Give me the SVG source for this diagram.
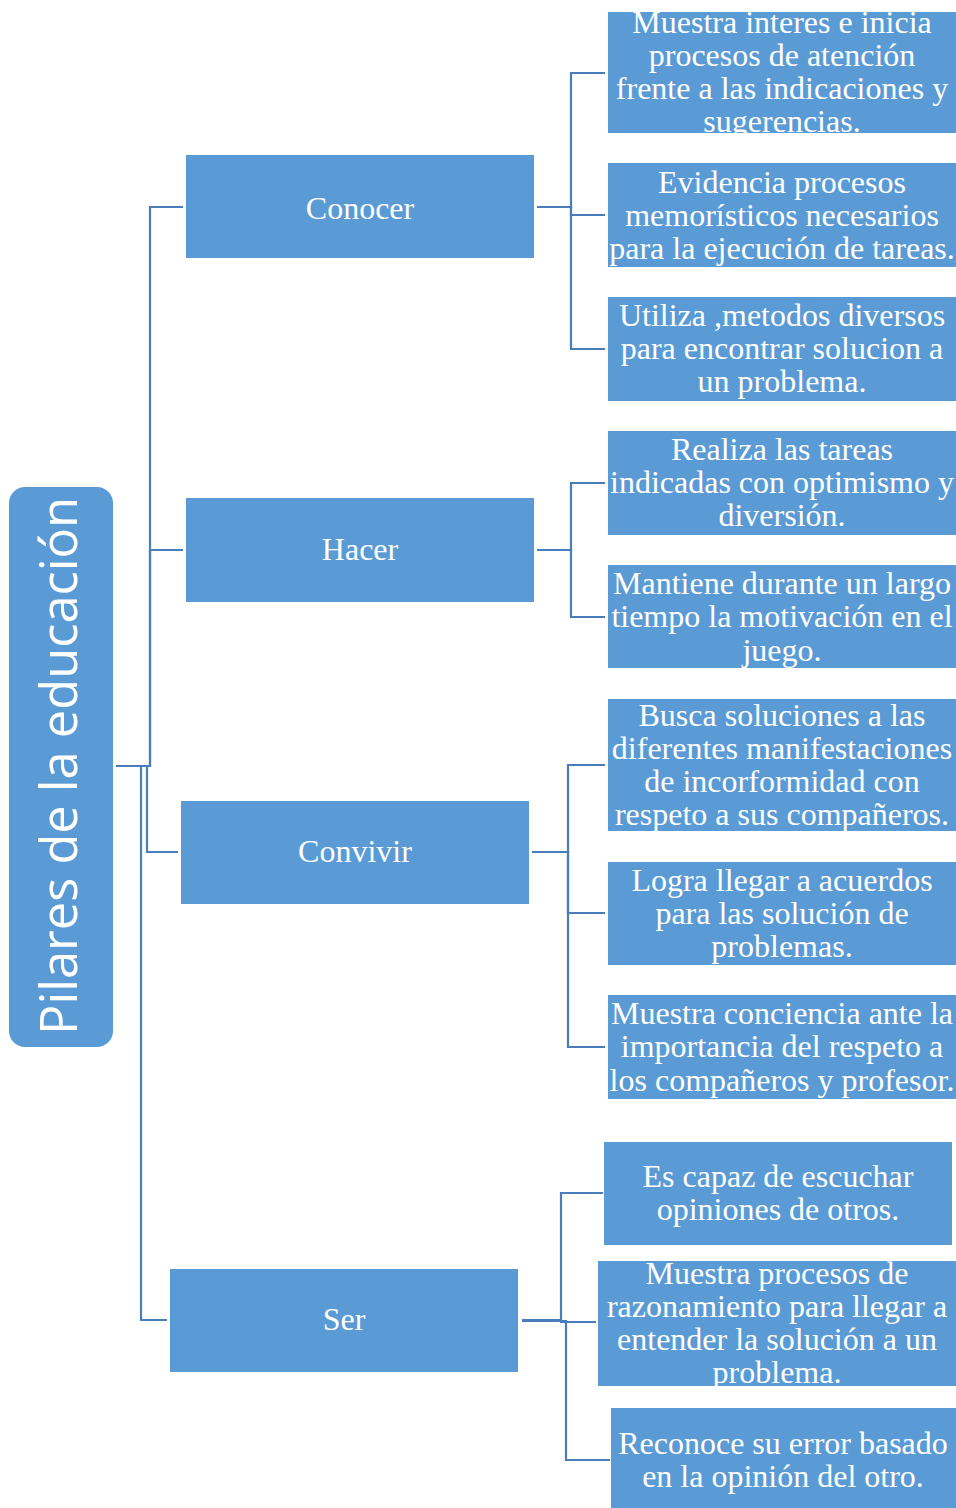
<svg xmlns="http://www.w3.org/2000/svg" width="956" height="1508" viewBox="0 0 956 1508">
<style>
.box{fill:#5B9BD5}
.t{font-family:"Liberation Serif","Times New Roman",serif;font-size:32px;fill:#ffffff;text-anchor:middle}
.root{font-family:"Open Sans","Noto Sans",sans-serif;font-size:52px;fill:#ffffff;text-anchor:middle}
.c{fill:none;stroke:#4A7EBB;stroke-width:2.2}
</style>
<defs>
<clipPath id="k1"><rect x="608" y="12" width="348" height="121"/></clipPath>
<clipPath id="k7"><rect x="608" y="699" width="348" height="132"/></clipPath>
<clipPath id="k11"><rect x="598" y="1261" width="358" height="125"/></clipPath>
</defs>
<rect width="956" height="1508" fill="#ffffff"/>
<g id="connectors">
<path class="c" d="M116 766 H150 V207 H183"/>
<path class="c" d="M116 766 H150 V550 H183"/>
<path class="c" d="M116 766 H147 V852 H178"/>
<path class="c" d="M116 766 H141 V1320 H167"/>
<path class="c" d="M537 207 H571 V73 H605"/>
<path class="c" d="M537 207 H571 V215 H605"/>
<path class="c" d="M537 207 H571 V349 H605"/>
<path class="c" d="M537 550 H571 V483 H605"/>
<path class="c" d="M537 550 H571 V617 H605"/>
<path class="c" d="M532 852 H568 V765 H605"/>
<path class="c" d="M532 852 H568 V913 H605"/>
<path class="c" d="M532 852 H568 V1047 H605"/>
<path class="c" d="M522 1320 H561 V1193 H603"/>
<path class="c" d="M522 1320 H561 V1322 H596"/>
<path class="c" d="M522 1321 H566 V1460 H610"/>
</g>
<g id="root">
<rect class="box" x="9" y="487" width="104" height="560" rx="16"/>
<text class="root" transform="translate(77,766) rotate(-90)" x="0" y="0" textLength="538" lengthAdjust="spacingAndGlyphs">Pilares de la educación</text>
</g>
<g id="conocer">
<rect class="box" x="186" y="155" width="348" height="103"/>
<text class="t" x="360" y="219">Conocer</text>
</g>
<g id="hacer">
<rect class="box" x="186" y="498" width="348" height="104"/>
<text class="t" x="360" y="560">Hacer</text>
</g>
<g id="convivir">
<rect class="box" x="181" y="801" width="348" height="103"/>
<text class="t" x="355" y="862">Convivir</text>
</g>
<g id="ser">
<rect class="box" x="170" y="1269" width="348" height="103"/>
<text class="t" x="344" y="1330">Ser</text>
</g>
<g id="leaf1">
<rect class="box" x="608" y="12" width="348" height="121"/>
<text class="t" clip-path="url(#k1)"><tspan x="782" y="33">Muestra interes e inicia</tspan><tspan x="782" y="66">procesos de atención</tspan><tspan x="782" y="99">frente a las indicaciones y</tspan><tspan x="782" y="132">sugerencias.</tspan></text>
</g>
<g id="leaf2">
<rect class="box" x="608" y="163" width="348" height="104"/>
<text class="t"><tspan x="782" y="193">Evidencia procesos</tspan><tspan x="782" y="226">memorísticos necesarios</tspan><tspan x="782" y="259">para la ejecución de tareas.</tspan></text>
</g>
<g id="leaf3">
<rect class="box" x="608" y="297" width="348" height="104"/>
<text class="t"><tspan x="782" y="326">Utiliza ,metodos diversos</tspan><tspan x="782" y="359">para encontrar solucion a</tspan><tspan x="782" y="392">un problema.</tspan></text>
</g>
<g id="leaf4">
<rect class="box" x="608" y="431" width="348" height="104"/>
<text class="t"><tspan x="782" y="460">Realiza las tareas</tspan><tspan x="782" y="493">indicadas con optimismo y</tspan><tspan x="782" y="526">diversión.</tspan></text>
</g>
<g id="leaf5">
<rect class="box" x="608" y="565" width="348" height="103"/>
<text class="t"><tspan x="782" y="594">Mantiene durante un largo</tspan><tspan x="782" y="627">tiempo la motivación en el</tspan><tspan x="782" y="661">juego.</tspan></text>
</g>
<g id="leaf6">
<rect class="box" x="608" y="699" width="348" height="132"/>
<text class="t" clip-path="url(#k7)"><tspan x="782" y="726">Busca soluciones a las</tspan><tspan x="782" y="759">diferentes manifestaciones</tspan><tspan x="782" y="792">de incorformidad con</tspan><tspan x="782" y="825">respeto a sus compañeros.</tspan></text>
</g>
<g id="leaf7">
<rect class="box" x="608" y="862" width="348" height="103"/>
<text class="t"><tspan x="782" y="891">Logra llegar a acuerdos</tspan><tspan x="782" y="924">para las solución de</tspan><tspan x="782" y="957">problemas.</tspan></text>
</g>
<g id="leaf8">
<rect class="box" x="608" y="995" width="348" height="104"/>
<text class="t"><tspan x="782" y="1024">Muestra conciencia ante la</tspan><tspan x="782" y="1057">importancia del respeto a</tspan><tspan x="782" y="1091">los compañeros y profesor.</tspan></text>
</g>
<g id="leaf9">
<rect class="box" x="604" y="1142" width="348" height="103"/>
<text class="t"><tspan x="778" y="1187">Es capaz de escuchar</tspan><tspan x="778" y="1220">opiniones de otros.</tspan></text>
</g>
<g id="leaf10">
<rect class="box" x="598" y="1261" width="358" height="125"/>
<text class="t" clip-path="url(#k11)"><tspan x="777" y="1284">Muestra procesos de</tspan><tspan x="777" y="1317">razonamiento para llegar a</tspan><tspan x="777" y="1350">entender la solución a un</tspan><tspan x="777" y="1383">problema.</tspan></text>
</g>
<g id="leaf11">
<rect class="box" x="611" y="1408" width="345" height="100"/>
<text class="t"><tspan x="783" y="1454">Reconoce su error basado</tspan><tspan x="783" y="1487">en la opinión del otro.</tspan></text>
</g>
</svg>
